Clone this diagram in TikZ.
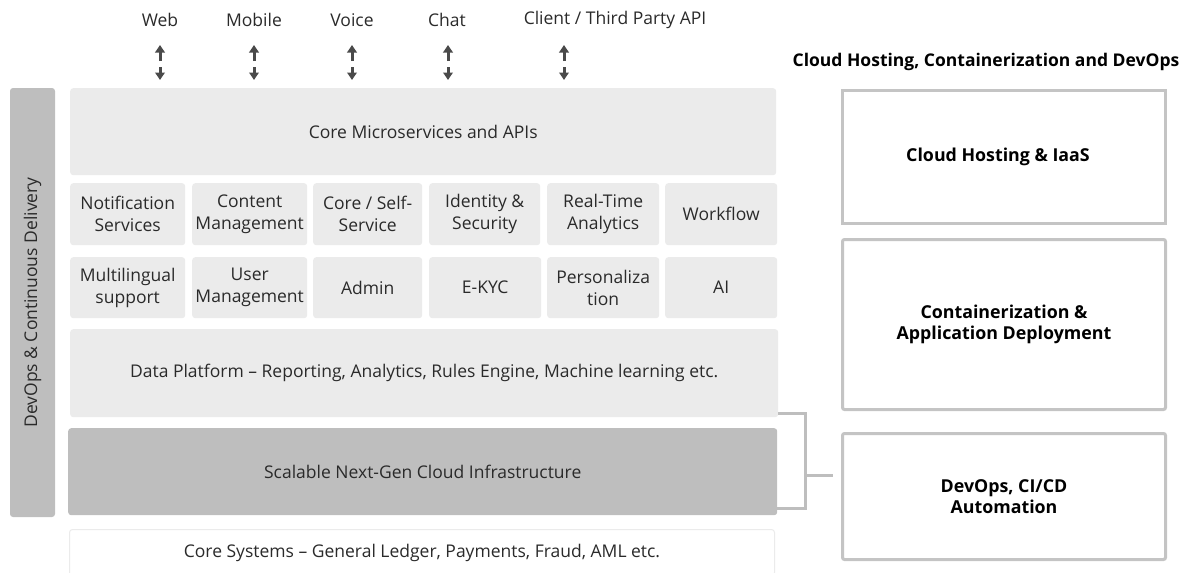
\documentclass[tikz,border=0pt]{standalone}
\usepackage{fontspec}
\setmainfont{Open Sans}
\usetikzlibrary{arrows.meta}
\definecolor{lightbox}{HTML}{EBEBEB}
\definecolor{darkbox}{HTML}{BEBEBE}
\definecolor{txt}{HTML}{2A2A2A}
\definecolor{arrowc}{HTML}{4A4A4A}
\definecolor{rbord}{HTML}{C4C4C4}
\begin{document}
\begin{tikzpicture}[x=1pt,y=-1pt,
  font=\fontsize{17.5}{22}\selectfont, text=txt,
  lbox/.style={fill=lightbox, rounded corners=3pt, align=center, inner sep=0pt, anchor=north west},
  dbox/.style={fill=darkbox, rounded corners=3pt, align=center, inner sep=0pt, anchor=north west},
  rbox/.style={draw=rbord, line width=3pt, fill=white, rounded corners=2pt, align=center, inner sep=0pt,
     anchor=north west, minimum width=323pt, font=\fontsize{17.8}{21.5}\selectfont\bfseries, text=black},
  lbl/.style={inner sep=0pt},
  updown/.style={draw=arrowc, line width=3pt, -{Triangle[width=9.5pt,length=7.5pt]}},
  brk/.style={draw=darkbox, line width=3pt}
]
\useasboundingbox (0,0) rectangle (1187,573);

% top labels
\node[lbl] (web) at (160,20) {Web};
\node[lbl] (mob) at (254,20) {Mobile};
\node[lbl] (voi) at (352,20) {Voice};
\node[lbl] (cha) at (447,20) {Chat};
\node[lbl] (cli) at (615,20) {Client / Third Party API};

% left vertical bar
\node[fill=darkbox, rounded corners=3pt, rotate=90, minimum width=429pt, minimum height=45pt, inner sep=0pt]
  (dev) at (32.5,302.5) {DevOps \& Continuous Delivery};

% core microservices
\node[lbl, lbox, minimum width=706pt, minimum height=87pt] (core) at (70,88) {Core Microservices and APIs};

% row 1
\node[lbox, minimum width=115pt, minimum height=62pt] (r1a) at (70,183) {Notification\\Services};
\node[lbox, minimum width=115pt, minimum height=62pt] (r1b) at (192,183) {Content\\Management};
\node[lbox, minimum width=109pt, minimum height=62pt] (r1c) at (313,183) {Core / Self-\\Service};
\node[lbox, minimum width=111pt, minimum height=62pt] (r1d) at (429,183) {Identity \&\\Security};
\node[lbox, minimum width=112pt, minimum height=62pt] (r1e) at (547,183) {Real-Time\\Analytics};
\node[lbox, minimum width=112pt, minimum height=62pt] (r1f) at (665,183) {Workflow};

% row 2
\node[lbox, minimum width=115pt, minimum height=61pt] (r2a) at (70,257) {Multilingual\\support};
\node[lbox, minimum width=115pt, minimum height=61pt] (r2b) at (192,257) {User\\Management};
\node[lbox, minimum width=109pt, minimum height=61pt] (r2c) at (313,257) {Admin};
\node[lbox, minimum width=112pt, minimum height=61pt] (r2d) at (429,257) {E-KYC};
\node[lbox, minimum width=112pt, minimum height=61pt] (r2e) at (547,257) {Personaliza\\tion};
\node[lbox, minimum width=112pt, minimum height=61pt] (r2f) at (665,257) {AI};

% data platform
\node[lbox, minimum width=708pt, minimum height=88pt] (data) at (70,329)
  {Data Platform -- Reporting, Analytics, Rules Engine, Machine learning etc.};

% scalable infra
\node[dbox, minimum width=709pt, minimum height=87pt] (scal) at (68,428) {Scalable Next-Gen Cloud Infrastructure};

% core systems
\node[draw=lightbox, line width=1pt, fill=white, rounded corners=3pt, inner sep=0pt, anchor=north west,
  minimum width=705pt, minimum height=46pt] (coresys) at (69,529) {Core Systems -- General Ledger, Payments, Fraud, AML etc.};

% right side
\node[inner sep=0pt, font=\fontsize{17.5}{21}\selectfont\bfseries, text=black] (rhead) at (986,62)
  {Cloud Hosting, Containerization and DevOps};
\node[rbox, minimum height=133pt, rounded corners=0pt] (host) at (841,89) {\hspace*{-12pt}Cloud Hosting \& IaaS};
\node[rbox, minimum height=170pt] (cont) at (841,238) {Containerization \&\\Application Deployment};
\node[rbox, minimum height=126pt] (devops) at (841,432) {DevOps, CI/CD\\Automation};

% arrows
\foreach \n/\x in {web/160, mob/254, voi/352, cha/448, cli/564}{
  \coordinate (\n u0) at (\x,61);
  \coordinate (\n u1) at (\x,45);
  \coordinate (\n d0) at (\x,67);
  \coordinate (\n d1) at (\x,80);
  \draw[updown] (\n u0) -- (\n u1);
  \draw[updown] (\n d0) -- (\n d1);
}

% bracket
\coordinate (b1) at (805,413);
\coordinate (b2) at (805,508);
\coordinate (bm) at (805,475);
\coordinate (be) at (833,475);
\draw[brk] (data.east |- b1) -- (b1) -- (b2) -- (scal.east |- b2);
\draw[brk] (bm) -- (be);
\end{tikzpicture}
\end{document}
